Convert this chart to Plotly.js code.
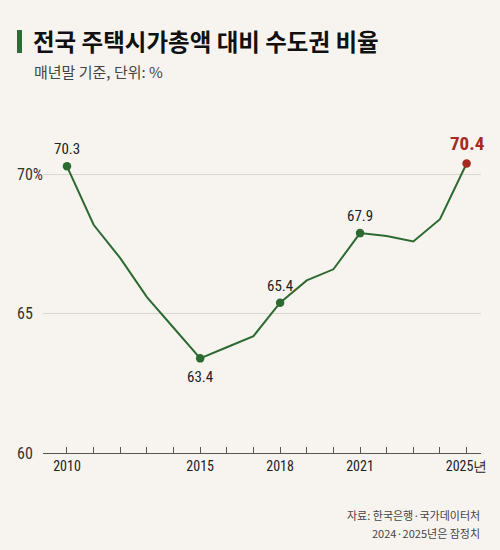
<!DOCTYPE html>
<html>
<head>
<meta charset="utf-8">
<script src="https://cdn.plot.ly/plotly-3.0.1.min.js"></script>
<style>
  html, body { margin: 0; padding: 0; background: #f7f4ef; }
  #chart { width: 500px; height: 550px; }
</style>
</head>
<body>
<div id="chart"></div>
<script>
// Share of the Seoul metropolitan area in the nationwide housing market value (%, year-end)
const years = [2010, 2011, 2012, 2013, 2014, 2015, 2016, 2017, 2018, 2019, 2020, 2021, 2022, 2023, 2024, 2025];
const shares = [70.3, 68.2, 67.0, 65.6, 64.5, 63.4, 63.8, 64.2, 65.4, 66.2, 66.6, 67.9, 67.8, 67.6, 68.4, 70.4];
const labeledYears = [2010, 2015, 2018, 2021, 2025];
const xTickLabels = { 2010: '2010', 2015: '2015', 2018: '2018', 2021: '2021', 2025: '2025년' };
const yTickVals = [60, 65, 70];
const yTickText = ['60', '65', '70%'];

const GREEN = '#2c6a31';
const RED = '#a62a1f';
const NARROW = '"Liberation Sans Narrow", "Roboto Condensed", Arial, sans-serif';
const KR = '"Noto Sans CJK KR", "Noto Sans", sans-serif';

const lastYear = years[years.length - 1];
const isLabeled = years.map(y => labeledYears.includes(y));

const lineTrace = {
  x: years,
  y: shares,
  type: 'scatter',
  mode: 'lines',
  line: { color: GREEN, width: 2 },
  hoverinfo: 'skip'
};

// dots only on the highlighted years
const dotTrace = {
  x: years.filter((y, i) => isLabeled[i]),
  y: shares.filter((v, i) => isLabeled[i]),
  type: 'scatter',
  mode: 'markers',
  marker: {
    size: 8.5,
    opacity: 1,
    line: { width: 0 },
    color: years.filter((y, i) => isLabeled[i]).map(y => y === lastYear ? RED : GREEN)
  },
  hoverinfo: 'skip'
};

const annotations = [];

// value labels on highlighted points (2015 sits below the line)
years.forEach((y, i) => {
  if (!isLabeled[i]) return;
  const isLast = y === lastYear;
  const below = y === 2015;
  annotations.push({
    x: y, y: shares[i], xref: 'x', yref: 'y',
    text: shares[i].toFixed(1),
    showarrow: false,
    yshift: below ? -19 : (isLast ? 20 : 17),
    font: isLast
      ? { family: NARROW, size: 19, color: RED, weight: 'bold' }
      : { family: NARROW, size: 15, color: '#222' }
  });
});

// left-aligned y tick labels
yTickVals.forEach((v, i) => {
  annotations.push({
    x: 15, y: v, xref: 'paper', yref: 'y',
    text: yTickText[i], showarrow: false,
    xanchor: 'left', yanchor: 'middle',
    font: { family: NARROW, size: 16, color: '#333' }
  });
});

// title block
annotations.push({
  x: 31, y: 41, xref: 'paper', yref: 'paper',
  text: '<b>전국 주택시가총액 대비 수도권 비율</b>', showarrow: false,
  xanchor: 'left', yanchor: 'middle',
  font: { family: KR, size: 23.5, color: '#111' }
});
annotations.push({
  x: 32, y: 72, xref: 'paper', yref: 'paper',
  text: '매년말 기준, 단위: %', showarrow: false,
  xanchor: 'left', yanchor: 'middle',
  font: { family: KR, size: 15, color: '#444' }
});
// source notes
annotations.push({
  x: 482, y: 515, xref: 'paper', yref: 'paper',
  text: '자료: 한국은행·국가데이터처', showarrow: false,
  xanchor: 'right', yanchor: 'middle',
  font: { family: KR, size: 11, color: '#444' }
});
annotations.push({
  x: 482, y: 533, xref: 'paper', yref: 'paper',
  text: '2024·2025년은 잠정치', showarrow: false,
  xanchor: 'right', yanchor: 'middle',
  font: { family: KR, size: 11, color: '#444' }
});

// convert pixel positions for paper-referenced items
const W = 500, H = 550;
const M = { l: 43, r: 19, t: 119, b: 97 };
const pw = W - M.l - M.r, ph = H - M.t - M.b;
annotations.forEach(a => {
  if (a.xref === 'paper') a.x = (a.x - M.l) / pw;
  if (a.yref === 'paper') a.y = 1 - (a.y - M.t) / ph;
});

const layout = {
  width: W, height: H,
  margin: M,
  paper_bgcolor: '#f7f4ef',
  plot_bgcolor: '#f7f4ef',
  showlegend: false,
  xaxis: {
    range: [2009.1, 2025.54],
    tickvals: years,
    ticktext: years.map(y => xTickLabels[y] || ''),
    ticks: 'inside', ticklen: 6, tickcolor: '#555', tickwidth: 1,
    showline: true, linecolor: '#555', linewidth: 1.2,
    showgrid: false, zeroline: false,
    tickfont: { family: NARROW, size: 14, color: '#222' },
    fixedrange: true
  },
  yaxis: {
    range: [60, 72],
    tickvals: yTickVals,
    showticklabels: false,
    showgrid: true, gridcolor: '#d9d6d1', gridwidth: 1,
    zeroline: false, showline: false,
    fixedrange: true
  },
  annotations: annotations,
  shapes: [{
    type: 'rect', xref: 'paper', yref: 'paper',
    x0: (17 - M.l) / pw, x1: (22 - M.l) / pw,
    y0: 1 - (53 - M.t) / ph, y1: 1 - (30 - M.t) / ph,
    fillcolor: '#2f6b35', line: { width: 0 }
  }]
};

Plotly.newPlot('chart', [lineTrace, dotTrace], layout, { displayModeBar: false, staticPlot: true });
</script>
</body>
</html>
